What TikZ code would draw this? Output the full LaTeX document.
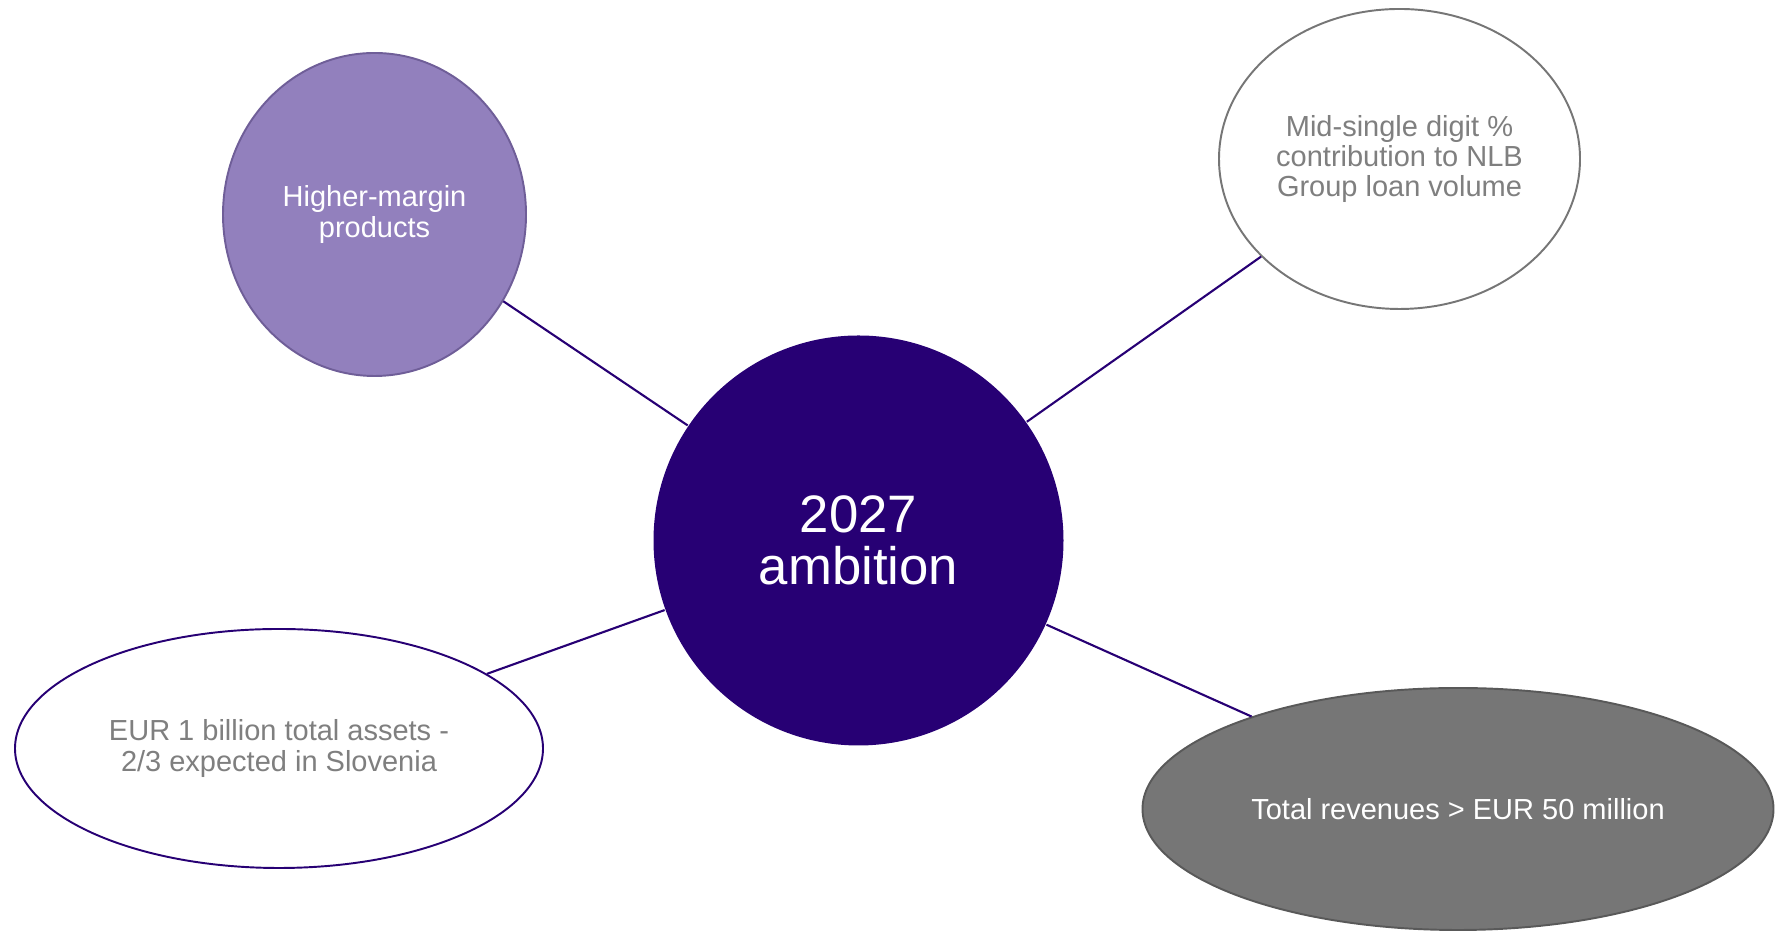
\documentclass[tikz,border=0pt]{standalone}
\usepackage{fontspec}
\setmainfont{Liberation Sans}
\usetikzlibrary{shapes.geometric}

\definecolor{nlbviolet}{HTML}{270074}
\definecolor{lilac}{HTML}{9280BD}
\definecolor{lilacdark}{HTML}{6F5E98}
\definecolor{stone}{HTML}{767676}
\definecolor{stonedark}{HTML}{595959}
\definecolor{textgrey}{HTML}{7F7F7F}

\begin{document}
\begin{tikzpicture}[
                line width=1.1pt,
                % Style for the outer bubbles (ellipse, centred text)
                bubble/.style={
                    ellipse,
                    inner sep=0pt,
                    align=center,
                    font=\fontsize{16.5pt}{17.1pt}\selectfont
                },
                % Style for the spokes
                spoke/.style={draw=nlbviolet, line width=1.2pt}
            ]

                \useasboundingbox (0, 0) rectangle (35.5, 18.66);

                % ========================================================
                % 1. Central circle
                % ========================================================
                \node[circle, fill=nlbviolet, minimum size=8.2cm, inner sep=0pt,
                      align=center, text=white,
                      font=\fontsize{30pt}{30pt}\selectfont]
                    (ambition) at (17.17, 7.85) {2027\\ambition};

                % ========================================================
                % 2. Outer bubbles
                % ========================================================
                % Top left (purple circle)
                \node[bubble, draw=lilacdark, fill=lilac, text=white,
                      minimum width=6.06cm, minimum height=6.46cm]
                    (margin) at (7.49, 14.37) {Higher-margin\\products};

                % Top right (white, grey border)
                \node[bubble, draw=stone, fill=white, text=textgrey,
                      minimum width=7.22cm, minimum height=6.0cm]
                    (loans) at (27.99, 15.48)
                    {Mid-single digit \%\\contribution to NLB\\Group loan volume};

                % Bottom left (white, violet border)
                \node[bubble, draw=nlbviolet, fill=white, text=textgrey,
                      minimum width=10.56cm, minimum height=4.78cm]
                    (assets) at (5.58, 3.69)
                    {EUR 1 billion total assets -\\2/3 expected in Slovenia};

                % Bottom right (grey)
                \node[bubble, draw=stonedark, fill=stone, text=white,
                      minimum width=12.62cm, minimum height=4.84cm]
                    (revenues) at (29.16, 2.48) {Total revenues > EUR 50 million};

                % ========================================================
                % 3. Spokes
                % ========================================================
                \draw[spoke] (ambition) -- (margin);
                \draw[spoke] (ambition) -- (loans);
                \draw[spoke] (ambition) -- (assets);
                \draw[spoke] (ambition) -- (revenues);

            \end{tikzpicture}
\end{document}
